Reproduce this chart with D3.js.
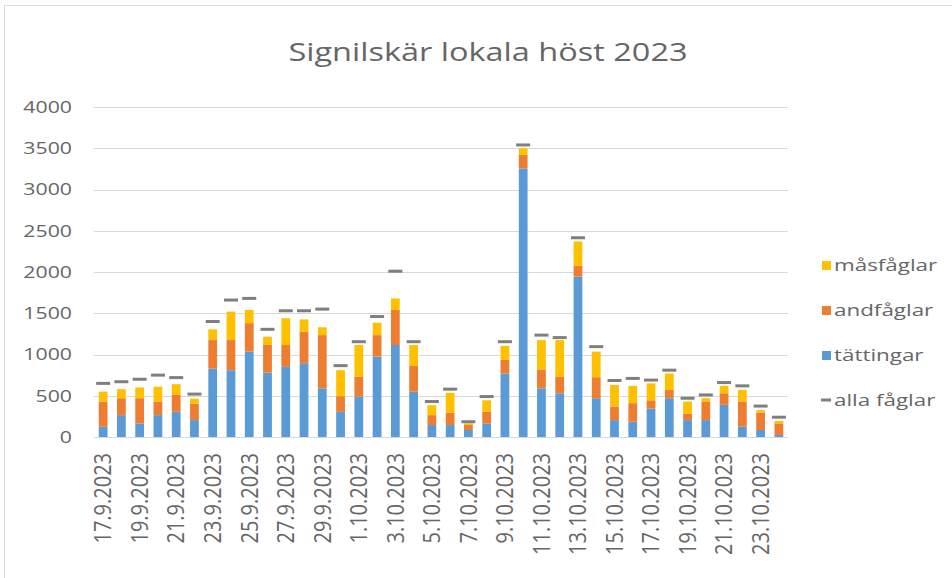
<!DOCTYPE html>
<html>
<head>
<meta charset="utf-8">
<script src="https://cdn.jsdelivr.net/npm/d3@7"></script>
<style>
  body { margin: 0; background: #fff; }
  svg { font-family: "Open Sans", "Noto Sans", sans-serif; }
</style>
</head>
<body>
<svg id="chart" width="952" height="578"></svg>
<script>
const dates = [
  "17.9.2023", "18.9.2023", "19.9.2023", "20.9.2023", "21.9.2023", "22.9.2023",
  "23.9.2023", "24.9.2023", "25.9.2023", "26.9.2023", "27.9.2023", "28.9.2023",
  "29.9.2023", "30.9.2023", "1.10.2023", "2.10.2023", "3.10.2023", "4.10.2023",
  "5.10.2023", "6.10.2023", "7.10.2023", "8.10.2023", "9.10.2023", "10.10.2023",
  "11.10.2023", "12.10.2023", "13.10.2023", "14.10.2023", "15.10.2023", "16.10.2023",
  "17.10.2023", "18.10.2023", "19.10.2023", "20.10.2023", "21.10.2023", "22.10.2023",
  "23.10.2023", "24.10.2023"
];

const tattingar = [
  125, 265, 165, 265, 305, 205, 830, 810, 1035, 780, 850, 895,
  590, 305, 490, 975, 1115, 550, 145, 145, 85, 165, 770, 3255,
  590, 530, 1945, 470, 205, 185, 345, 470, 205, 205, 390, 125,
  85, 25
];
const andfaglar = [
  305, 205, 305, 165, 205, 200, 345, 365, 345, 335, 265, 380,
  645, 190, 240, 260, 425, 310, 120, 150, 60, 140, 165, 165,
  230, 200, 130, 255, 165, 225, 100, 100, 75, 225, 140, 305,
  210, 140
];
const masfaglar = [
  120, 110, 130, 180, 130, 60, 130, 345, 160, 100, 325, 150,
  95, 315, 385, 150, 140, 255, 120, 240, 20, 140, 170, 80,
  355, 445, 295, 310, 260, 210, 205, 200, 150, 40, 90, 140,
  30, 30
];
const allaFaglar = [
  650, 670, 700, 750, 720, 520, 1400, 1660, 1680, 1305, 1530, 1530,
  1550, 865, 1155, 1460, 2010, 1155, 430, 580, 185, 490, 1155, 3540,
  1235, 1205, 2415, 1095, 685, 710, 690, 810, 470, 510, 660, 620,
  375, 240
];
const yTicks = [0, 500, 1000, 1500, 2000, 2500, 3000, 3500, 4000];

const seriesKeys = ["tattingar", "andfaglar", "masfaglar"];
const seriesNames = { tattingar: "tättingar", andfaglar: "andfåglar", masfaglar: "måsfåglar" };
const colors = { tattingar: "#5b9bd5", andfaglar: "#ed7d31", masfaglar: "#ffc000" };
const textColor = "#666";
const stretch = 1.33; // the source picture is a bit wider than tall

const rows = dates.map((d, i) => ({
  date: d, tattingar: tattingar[i], andfaglar: andfaglar[i], masfaglar: masfaglar[i], alla: allaFaglar[i]
}));

const svg = d3.select("#chart");
const margin = { left: 94, right: 164, top: 107, bottom: 141 };
const W = 952, H = 578;

// chart frame, right and bottom edges fall outside the picture
svg.append("rect")
  .attr("x", 4.5).attr("y", 5.5)
  .attr("width", 960).attr("height", 590)
  .attr("fill", "#fff").attr("stroke", "#d9d9d9");

const x = d3.scaleBand()
  .domain(dates)
  .range([margin.left, W - margin.right])
  .paddingInner(0.52).paddingOuter(0.26);

const y = d3.scaleLinear()
  .domain([0, 4000])
  .range([H - margin.bottom, margin.top]);

// grid
svg.append("g")
  .selectAll("line")
  .data(yTicks)
  .join("line")
  .attr("x1", margin.left).attr("x2", W - margin.right)
  .attr("y1", d => Math.round(y(d)) + 0.5).attr("y2", d => Math.round(y(d)) + 0.5)
  .attr("stroke", "#d9d9d9").attr("stroke-width", 1);

// y labels
svg.append("g")
  .selectAll("g")
  .data(yTicks)
  .join("g")
  .attr("transform", d => `translate(72,${y(d)}) scale(${stretch},1)`)
  .append("text")
  .attr("text-anchor", "end")
  .attr("dy", "0.36em")
  .attr("fill", textColor)
  .attr("font-size", 16)
  .text(d3.format("d"));

// stacked bars
const stacked = d3.stack().keys(seriesKeys)(rows);
svg.append("g")
  .selectAll("g")
  .data(stacked)
  .join("g")
  .attr("fill", s => colors[s.key])
  .selectAll("rect")
  .data(s => s)
  .join("rect")
  .attr("x", d => x(d.data.date))
  .attr("width", x.bandwidth())
  .attr("y", d => y(d[1]))
  .attr("height", d => y(d[0]) - y(d[1]));

// x axis
svg.append("line")
  .attr("x1", margin.left).attr("x2", W - margin.right)
  .attr("y1", Math.round(y(0)) + 0.5).attr("y2", Math.round(y(0)) + 0.5)
  .attr("stroke", "#d9d9d9");

// alla fåglar markers
svg.append("g")
  .selectAll("line")
  .data(rows)
  .join("line")
  .attr("x1", d => x(d.date) + x.bandwidth() / 2 - 7)
  .attr("x2", d => x(d.date) + x.bandwidth() / 2 + 7)
  .attr("y1", d => y(d.alla)).attr("y2", d => y(d.alla))
  .attr("stroke", "#7f7f7f").attr("stroke-width", 3);

// x labels (every other date)
svg.append("g")
  .selectAll("text")
  .data(dates.filter((d, i) => i % 2 === 0))
  .join("text")
  .attr("transform", d => `translate(${x(d) + x.bandwidth() / 2},${y(0) + 16}) rotate(-90) scale(1,1.15)`)
  .attr("text-anchor", "end")
  .attr("dy", "0.36em")
  .attr("fill", textColor)
  .attr("font-size", 20)
  .text(d => d);

// title
svg.append("g")
  .attr("transform", `translate(488,61) scale(1.3,1)`)
  .append("text")
  .attr("text-anchor", "middle")
  .attr("fill", textColor)
  .attr("font-size", 25)
  .text("Signilskär lokala höst 2023");

// legend
const legendItems = ["masfaglar", "andfaglar", "tattingar"];
const legend = svg.append("g");
legendItems.forEach((k, i) => {
  const ly = 265 + i * 45;
  legend.append("rect")
    .attr("x", 822).attr("y", ly - 4).attr("width", 9).attr("height", 9)
    .attr("fill", colors[k]);
  legend.append("g")
    .attr("transform", `translate(834,${ly}) scale(1.4,1)`)
    .append("text")
    .attr("dy", "0.36em")
    .attr("fill", textColor).attr("font-size", 16)
    .text(seriesNames[k]);
});
legend.append("line")
  .attr("x1", 821).attr("x2", 831)
  .attr("y1", 400).attr("y2", 400)
  .attr("stroke", "#7f7f7f").attr("stroke-width", 3);
legend.append("g")
  .attr("transform", `translate(834,400) scale(1.4,1)`)
  .append("text")
  .attr("dy", "0.36em")
  .attr("fill", textColor).attr("font-size", 16)
  .text("alla fåglar");
</script>
</body>
</html>
